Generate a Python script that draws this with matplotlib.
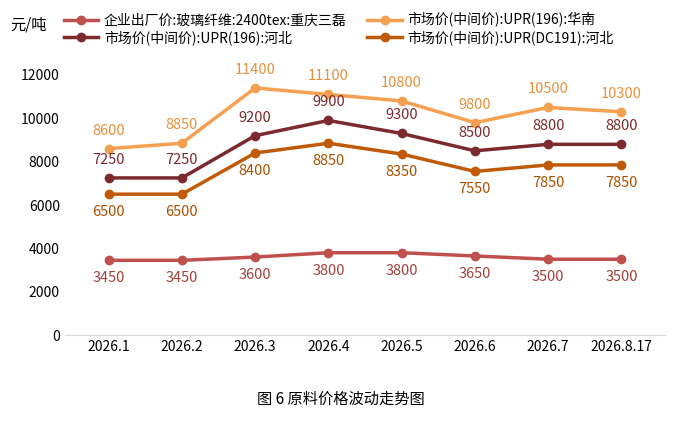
import matplotlib.pyplot as plt

plt.rcParams['font.family'] = ['Noto Sans CJK SC', 'DejaVu Sans']

dates = ['2026.1', '2026.2', '2026.3', '2026.4', '2026.5', '2026.6', '2026.7', '2026.8.17']
factory = [3450, 3450, 3600, 3800, 3800, 3650, 3500, 3500]
south = [8600, 8850, 11400, 11100, 10800, 9800, 10500, 10300]
hebei196 = [7250, 7250, 9200, 9900, 9300, 8500, 8800, 8800]
hebei191 = [6500, 6500, 8400, 8850, 8350, 7550, 7850, 7850]

series = [
    ('企业出厂价:玻璃纤维:2400tex:重庆三磊', factory, '#c0504d', '#a0403d', -1),
    ('市场价(中间价):UPR(196):华南', south, '#f5a050', '#e8903a', 1),
    ('市场价(中间价):UPR(196):河北', hebei196, '#7b2a2e', '#7b2a2e', 1),
    ('市场价(中间价):UPR(DC191):河北', hebei191, '#c05a08', '#a85000', -1),
]

fig = plt.figure(figsize=(6.81, 4.21), dpi=100)
ax = fig.add_axes([0.095, 0.204, 0.882, 0.618])
x = range(len(dates))
for name, vals, c, tc, side in series:
    ax.plot(x, vals, color=c, lw=2.5, marker='o', ms=6, label=name)
    for xi, v in zip(x, vals):
        ax.annotate(str(v), (xi, v), xytext=(0, 13 * side), textcoords='offset points',
                    ha='center', va='center', fontsize=10.5, color=tc)

ax.set_ylim(0, 12000)
ax.set_xlim(-0.6, len(dates) - 0.4)
ax.set_yticks(range(0, 12001, 2000))
ax.set_xticks(list(x))
ax.set_xticklabels(dates)
ax.tick_params(length=0, labelsize=10)
for s in ['top', 'right', 'left']:
    ax.spines[s].set_visible(False)
ax.spines['bottom'].set_color('#d9d9d9')

fig.text(0.015, 0.93, '元/吨', fontsize=11)
h, l = ax.get_legend_handles_labels()
fig.legend([h[0], h[2], h[1], h[3]], [l[0], l[2], l[1], l[3]], ncol=2, loc='upper left',
           bbox_to_anchor=(0.075, 1.0), frameon=False, fontsize=10,
           handlelength=2.5, columnspacing=1.5, handletextpad=0.4, labelspacing=0.2)
fig.text(0.5, 0.04, '图 6 原料价格波动走势图', ha='center', fontsize=11)
fig.savefig('out.png', dpi=100)
